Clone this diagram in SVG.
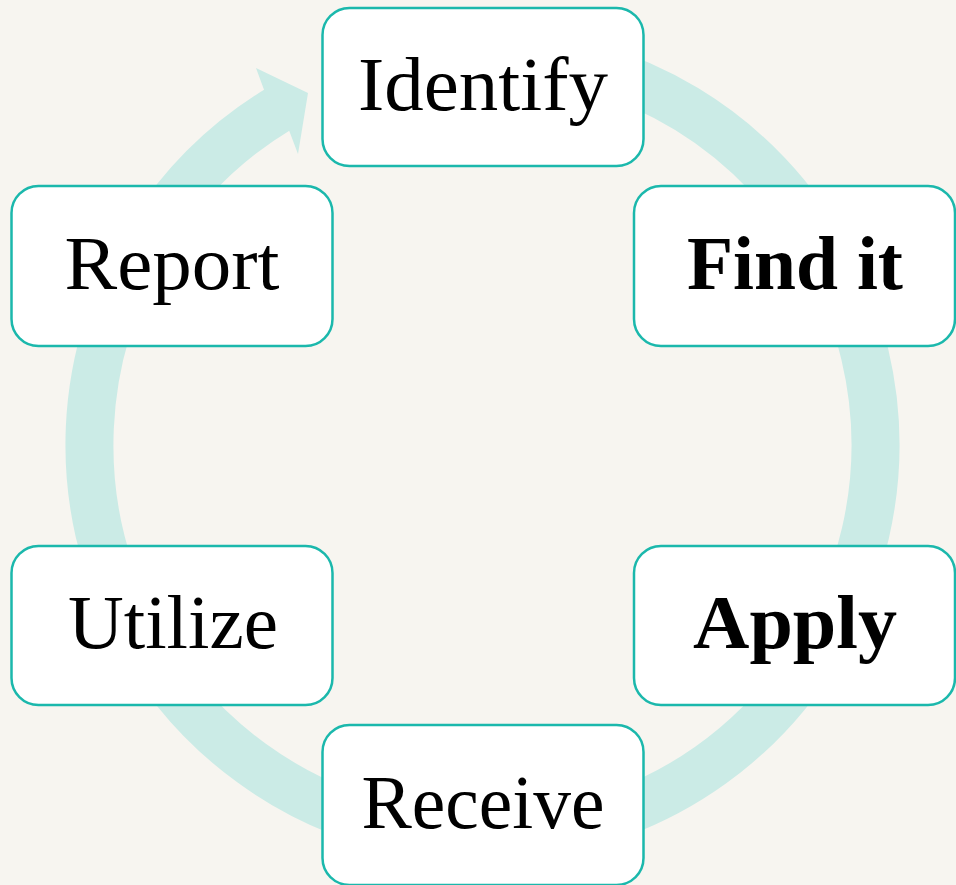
<svg xmlns="http://www.w3.org/2000/svg" width="956" height="885" viewBox="0 0 956 885">
<style>
.box{fill:#ffffff;stroke:#1bb8ac;stroke-width:2.5}
.t{font-family:"Liberation Serif","Times New Roman",serif;font-size:76px;fill:#000;text-anchor:middle}
.b{font-weight:bold}
</style>
<rect width="956" height="885" fill="#f7f5f0"/>
<g id="connectors">
<path d="M414.26,57.97 A393,393 0 1 1 280.1,108.1" fill="none" stroke="#cbebe6" stroke-width="48"/>
<polygon points="264,89.7 256,68 308,93 298,154 289.1,130.6" fill="#cbebe6"/>
</g>
<g id="identify"><rect class="box" x="322.5" y="8" width="321" height="158" rx="27"/><text class="t" x="483" y="110" textLength="250" lengthAdjust="spacingAndGlyphs">Identify</text></g>
<g id="findit"><rect class="box" x="634" y="186" width="321" height="160" rx="27"/><text class="t b" x="795" y="289" textLength="216" lengthAdjust="spacingAndGlyphs">Find it</text></g>
<g id="report"><rect class="box" x="11.5" y="186" width="321" height="160" rx="27"/><text class="t" x="172" y="289" textLength="215" lengthAdjust="spacingAndGlyphs">Report</text></g>
<g id="utilize"><rect class="box" x="11.5" y="546" width="321" height="159" rx="27"/><text class="t" x="173" y="648" textLength="210" lengthAdjust="spacingAndGlyphs">Utilize</text></g>
<g id="apply"><rect class="box" x="634" y="546" width="321" height="159" rx="27"/><text class="t b" x="795" y="648" textLength="204" lengthAdjust="spacingAndGlyphs">Apply</text></g>
<g id="receive"><rect class="box" x="322.5" y="725" width="321" height="160" rx="27"/><text class="t" x="483" y="828" textLength="243" lengthAdjust="spacingAndGlyphs">Receive</text></g>
</svg>
